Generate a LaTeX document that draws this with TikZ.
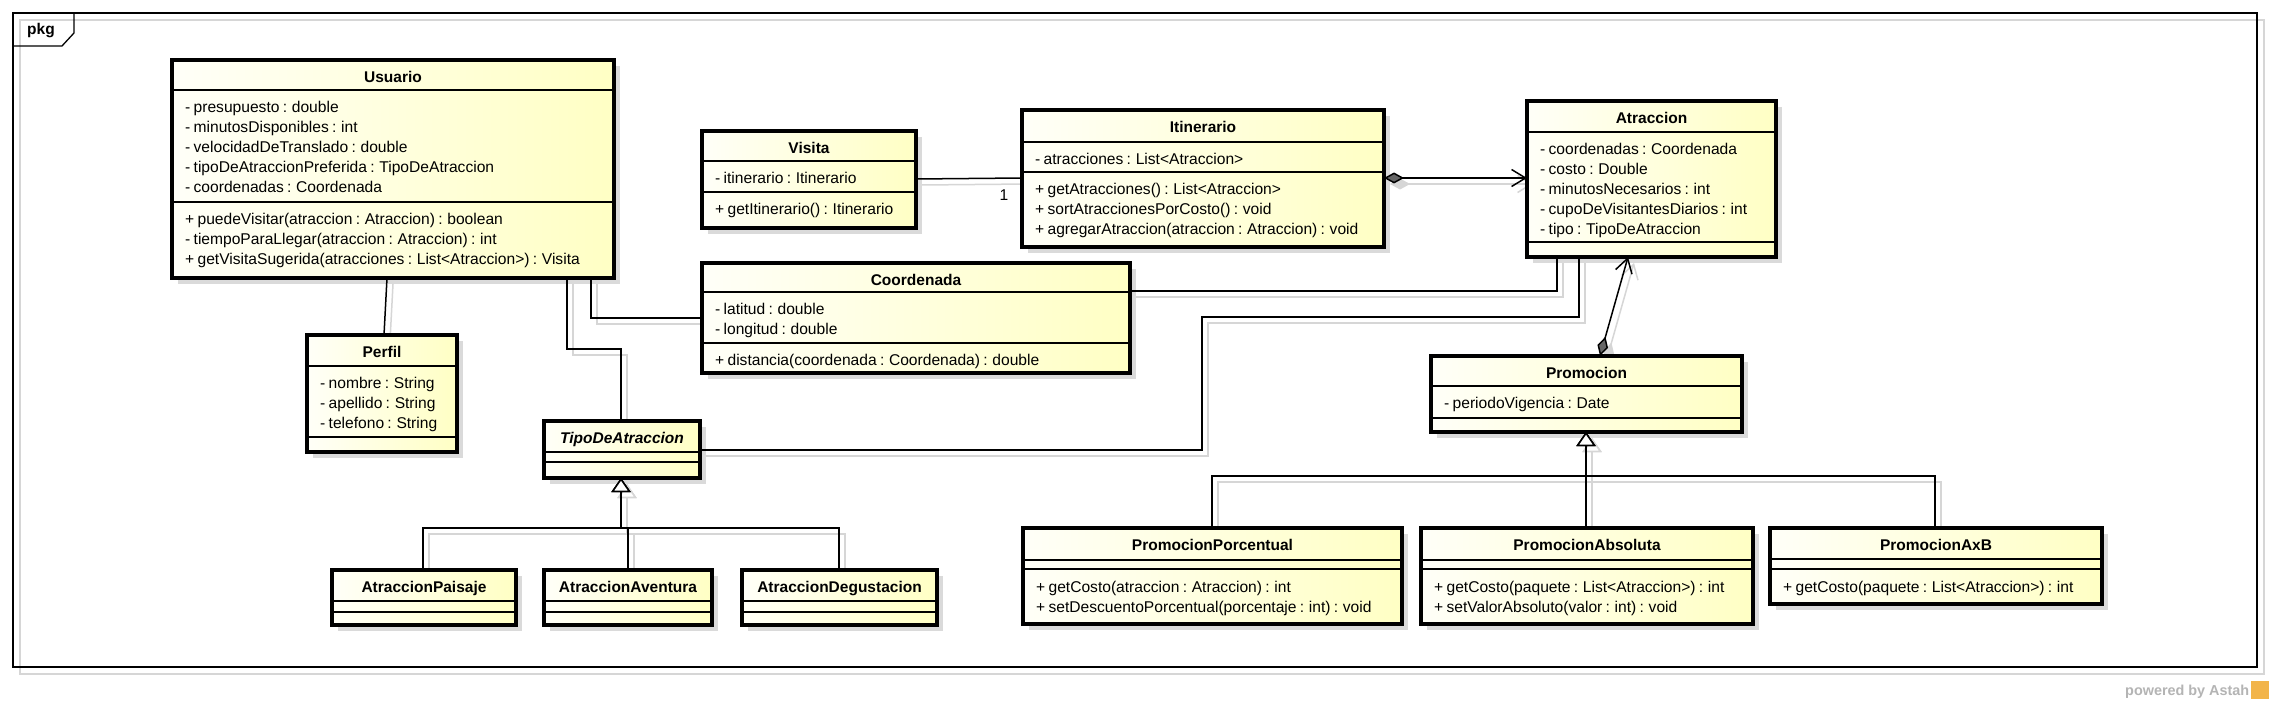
\documentclass[tikz,border=0pt]{standalone}
\usepackage{fontspec}
\setmainfont{Liberation Sans}
\usetikzlibrary{arrows.meta}
\pgfdeclarelayer{bg}
\pgfsetlayers{bg,main}
\definecolor{fillL}{HTML}{FFFFF8}
\definecolor{fillR}{HTML}{FFFFC4}
\definecolor{bshadc}{HTML}{DADADA}
\definecolor{lshadc}{HTML}{D6D6D6}
\definecolor{diamc}{HTML}{666666}
\definecolor{astahc}{HTML}{B4B4B4}
\definecolor{logoc}{HTML}{F2B44A}
\tikzset{
  cls/.style={draw=black, line width=3.2pt, left color=fillL, right color=fillR, rectangle, inner sep=0pt, outer sep=0pt},
  ttl/.style={font=\fontsize{15.5}{20}\selectfont\bfseries, inner sep=0pt},
  mem/.style={font=\fontsize{15.6}{20}\selectfont, inner sep=0pt, anchor=base west},
  sepl/.style={line width=1.3pt},
  conn/.style={line width=1.5pt, draw=black},
  cshad/.style={line width=1.5pt, draw=lshadc},
  bshad/.style={fill=bshadc},
  compo/.style={{Diamond[length=20pt,width=11pt,fill=diamc]}-{Straight Barb[length=14pt,width=17pt]}},
  compoS/.style={{Diamond[length=20pt,width=11pt,fill=lshadc]}-{Straight Barb[length=14pt,width=17pt]}},
  gen/.style={-{Triangle[length=14pt,width=19pt,fill=white]}},
}
\newcommand\umlclass[8]{%
  \begin{pgfonlayer}{bg}\fill[bshad] ({#2+6},{#3+6}) rectangle ({#4+6},{#5+6});\end{pgfonlayer}
  \node[cls, anchor=north west, minimum width={#4-#2}, minimum height={#5-#3}] (#1) at (#2,#3) {};
  \node[ttl, anchor=base] (#1-t) at ({(#2+#4)/2},{#3+22.5}) {#6};
  \draw[sepl] (#2,#7) -- (#4,#7);
  \draw[sepl] (#2,#8) -- (#4,#8);
}
\newcommand\members[4]{%
  \foreach \m [count=\i] in {#4} {\node[mem] (#1-\i) at (#2,{#3+20*(\i-1)}) {\spaceskip=0.21em plus 0.05em\relax\m};}
}
\newcommand\conn[3]{%
  \begin{pgfonlayer}{bg}\draw[cshad,#2,transform canvas={xshift=6pt,yshift=-6pt}] #3;\end{pgfonlayer}
  \draw[conn,#1] #3;
}
\begin{document}
\begin{tikzpicture}[x=1pt,y=-1pt]
\useasboundingbox (0,0) rectangle (2269,708);
\begin{pgfonlayer}{bg}
  \fill[white] (0,0) rectangle (2269,708);
  \draw[lshadc, line width=1.3pt] (20,20) rectangle (2264,674);
  \draw[line width=1.3pt] (13,13) rectangle (2257,667);
  \draw[line width=1.3pt] (13,46) -- (62,46) -- (74,33) -- (74,13);
\end{pgfonlayer}
\node[ttl] (pkg) at (41,31) {pkg};
\node[font=\fontsize{14.4}{16}\selectfont\bfseries, text=astahc, anchor=base west, inner sep=0pt] (astah) at (2125,695) {powered by Astah};
\node[fill=logoc, minimum width=18pt, minimum height=18pt, inner sep=0pt, anchor=north west] (logo) at (2251,681) {};

% classes
\umlclass{usuario}{172}{60}{614}{278}{Usuario}{90}{202}
\members{usuarioA}{185}{112.5}{- presupuesto : double, - minutosDisponibles : int, - velocidadDeTranslado : double, - tipoDeAtraccionPreferida : TipoDeAtraccion, - coordenadas : Coordenada}
\members{usuarioO}{185}{224.5}{+ puedeVisitar(atraccion : Atraccion) : boolean, - tiempoParaLlegar(atraccion : Atraccion) : int, + getVisitaSugerida(atracciones : List<Atraccion>) : Visita}

\umlclass{perfil}{307}{335}{457}{452}{Perfil}{366}{437}
\members{perfilA}{320}{388.5}{- nombre : String, - apellido : String, - telefono : String}

\umlclass{visita}{702}{131}{916}{228}{Visita}{161}{192}
\members{visitaA}{715}{183.5}{- itinerario : Itinerario}
\members{visitaO}{715}{214.5}{+ getItinerario() : Itinerario}

\umlclass{itin}{1022}{110}{1384}{247}{Itinerario}{142}{172}
\members{itinA}{1035}{164.5}{- atracciones : List<Atraccion>}
\members{itinO}{1035}{194.5}{+ getAtracciones() : List<Atraccion>, + sortAtraccionesPorCosto() : void, + agregarAtraccion(atraccion : Atraccion) : void}

\umlclass{atr}{1527}{101}{1776}{257}{Atraccion}{132}{242}
\members{atrA}{1540}{154.5}{- coordenadas : Coordenada, - costo : Double, - minutosNecesarios : int, - cupoDeVisitantesDiarios : int, - tipo : TipoDeAtraccion}

\umlclass{coord}{702}{263}{1130}{373}{Coordenada}{292}{343}
\members{coordA}{715}{314.5}{- latitud : double, - longitud : double}
\members{coordO}{715}{365.5}{+ distancia(coordenada : Coordenada) : double}

\umlclass{tipo}{544}{421}{700}{478}{\itshape TipoDeAtraccion}{452}{462}
\umlclass{paisaje}{332}{570}{516}{625}{AtraccionPaisaje}{601}{612}
\umlclass{aventura}{544}{570}{712}{625}{AtraccionAventura}{601}{612}
\umlclass{degus}{742}{570}{937}{625}{AtraccionDegustacion}{601}{612}

\umlclass{promo}{1431}{356}{1742}{432}{Promocion}{386}{418}
\members{promoA}{1444}{408.5}{- periodoVigencia : Date}

\umlclass{pporc}{1023}{528}{1402}{624}{PromocionPorcentual}{560}{569}
\members{pporcO}{1036}{592}{+ getCosto(atraccion : Atraccion) : int, + setDescuentoPorcentual(porcentaje : int) : void}
\umlclass{pabs}{1421}{528}{1753}{624}{PromocionAbsoluta}{560}{569}
\members{pabsO}{1434}{592}{+ getCosto(paquete : List<Atraccion>) : int, + setValorAbsoluto(valor : int) : void}
\umlclass{paxb}{1770}{528}{2102}{604}{PromocionAxB}{559}{569}
\members{paxbO}{1783}{592}{+ getCosto(paquete : List<Atraccion>) : int}

% bend points
\coordinate (c7) at (1202,317);
\coordinate (pbus) at (1586,476);
\coordinate (tbus) at (621,528);

% connectors
\conn{}{}{([xshift=215pt]usuario.south west) -- ([xshift=77pt]perfil.north west)}
\conn{}{}{([xshift=419pt]usuario.south west) |- ([yshift=-55pt]coord.north west)}
\conn{}{}{([xshift=395pt]usuario.south west) -- ++(0,71) -| ([xshift=77pt]tipo.north west)}
\conn{}{}{([yshift=-48pt]visita.north east) -- ([yshift=-68pt]itin.north west)}
\node[mem, anchor=center] (mult) at (1004,195) {1};
\conn{compo}{compoS}{([yshift=-68pt]itin.north east) -- ([yshift=-77pt]atr.north west)}
\conn{}{}{([yshift=-28pt]coord.north east) -| ([xshift=30pt]atr.south west)}
\conn{}{}{([yshift=-29pt]tipo.north east) -| (c7) -| ([xshift=52pt]atr.south west)}
\conn{compo}{compoS}{([xshift=169pt]promo.north west) -- ([xshift=101pt]atr.south west)}

\conn{gen}{gen}{([xshift=165pt]pabs.north west) -- ([xshift=155pt]promo.south west)}
\conn{gen}{gen}{([xshift=189pt]pporc.north west) |- (pbus) -- ([xshift=155pt]promo.south west)}
\conn{gen}{gen}{([xshift=165pt]paxb.north west) |- (pbus) -- ([xshift=155pt]promo.south west)}

\conn{gen}{gen}{([xshift=91pt]paisaje.north west) |- (tbus) -- ([xshift=77pt]tipo.south west)}
\conn{gen}{gen}{([xshift=84pt]aventura.north west) |- (tbus) -- ([xshift=77pt]tipo.south west)}
\conn{gen}{gen}{([xshift=97pt]degus.north west) |- (tbus) -- ([xshift=77pt]tipo.south west)}
\end{tikzpicture}
\end{document}
